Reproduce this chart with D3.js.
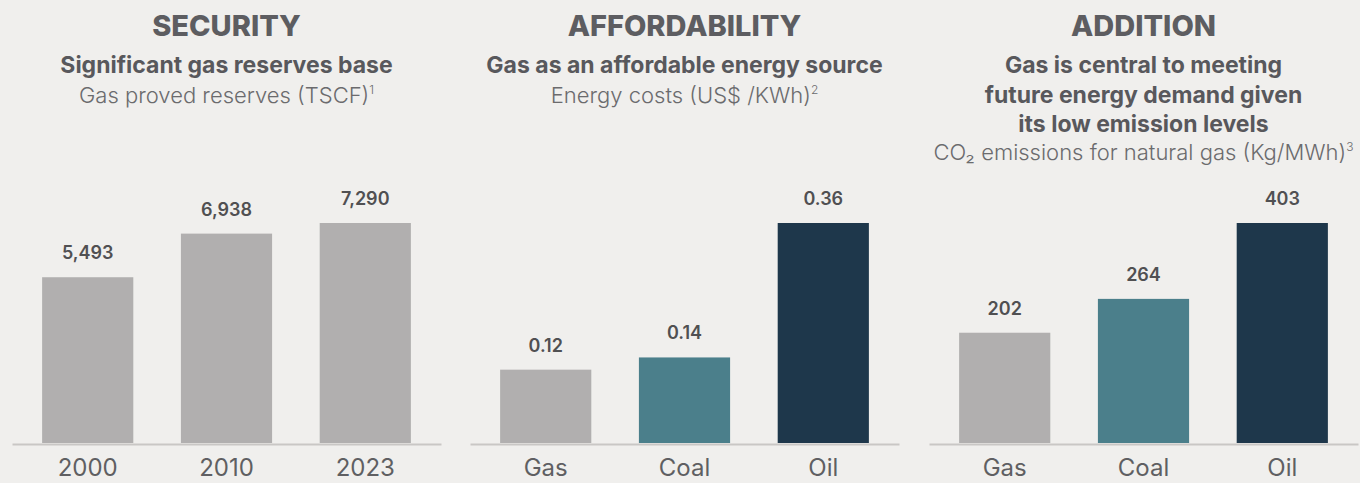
<!DOCTYPE html>
<html>
<head>
<meta charset="utf-8">
<script src="https://cdn.jsdelivr.net/npm/d3@7"></script>
<style>
  html, body { margin: 0; padding: 0; background: #f0efed; }
  svg { display: block; font-family: Inter, "Noto Sans", sans-serif; }
  .domain { stroke: #c9c7c5; stroke-width: 2; }
</style>
</head>
<body>
<svg id="chart" width="1360" height="483"></svg>
<script>
"use strict";

// data
var securityCats = ["2000", "2010", "2023"];
var securityVals = [5493, 6938, 7290];
var securityLabels = ["5,493", "6,938", "7,290"];

var affordCats = ["Gas", "Coal", "Oil"];
var affordVals = [0.12, 0.14, 0.36];
var affordLabels = ["0.12", "0.14", "0.36"];

var additionCats = ["Gas", "Coal", "Oil"];
var additionVals = [202, 264, 403];
var additionLabels = ["202", "264", "403"];

var greyOnly = ["#b1afaf", "#b1afaf", "#b1afaf"];
var fuelColors = ["#b1afaf", "#4b7f8b", "#1e374b"];

var svg = d3.select("#chart");
svg.append("rect").attr("width", 1360).attr("height", 483).attr("fill", "#f0efed");

var panelW = 429, baseY = 443, topY = 223;

// one panel = title block + bar chart
function drawPanel(x0, title, lines, note, noteSup, noteY, cats, vals, labels, colors) {
  var g = svg.append("g").attr("transform", "translate(" + x0 + ",0)");
  var cx = panelW / 2;

  g.append("text")
    .attr("x", cx).attr("y", 36)
    .attr("text-anchor", "middle")
    .attr("font-size", 29).attr("font-weight", 800)
    .attr("fill", "#5d5d61")
    .text(title);

  lines.forEach(function(l, i) {
    g.append("text")
      .attr("x", cx).attr("y", 73 + i * 29.5)
      .attr("text-anchor", "middle")
      .attr("font-size", 23).attr("font-weight", 700)
      .attr("fill", "#58585c")
      .text(l);
  });

  var nt = g.append("text")
    .attr("x", cx).attr("y", noteY)
    .attr("text-anchor", "middle")
    .attr("font-size", 22).attr("font-weight", 300)
    .attr("fill", "#6b6b6d");
  nt.append("tspan").text(note);
  nt.append("tspan").attr("font-size", 12).attr("dy", -9).text(noteSup);

  var x = d3.scaleBand()
    .domain(cats)
    .range([0, panelW])
    .paddingInner(0.343)
    .paddingOuter(0.217);

  var y = d3.scaleLinear()
    .domain([0, d3.max(vals)])
    .range([baseY, topY]);

  g.selectAll(".bar")
    .data(vals)
    .enter()
    .append("rect")
      .attr("class", "bar")
      .attr("x", function(d, i) { return x(cats[i]); })
      .attr("y", function(d) { return y(d); })
      .attr("width", x.bandwidth())
      .attr("height", function(d) { return baseY - y(d); })
      .attr("fill", function(d, i) { return colors[i]; });

  g.selectAll(".val")
    .data(vals)
    .enter()
    .append("text")
      .attr("class", "val")
      .attr("x", function(d, i) { return x(cats[i]) + x.bandwidth() / 2; })
      .attr("y", function(d) { return y(d) - 18; })
      .attr("text-anchor", "middle")
      .attr("font-size", 18).attr("font-weight", 600)
      .attr("fill", "#505052")
      .text(function(d, i) { return labels[i]; });

  var axis = g.append("g")
    .attr("transform", "translate(0," + (baseY + 1) + ")")
    .call(d3.axisBottom(x).tickSize(0).tickPadding(15));
  axis.selectAll("text")
    .attr("font-family", "Inter, sans-serif")
    .attr("font-size", 24)
    .attr("fill", "#5f5f62");
}

drawPanel(12, "SECURITY", ["Significant gas reserves base"],
  "Gas proved reserves (TSCF)", "1", 103,
  securityCats, securityVals, securityLabels, greyOnly);

drawPanel(470, "AFFORDABILITY", ["Gas as an affordable energy source"],
  "Energy costs (US$ /KWh)", "2", 103,
  affordCats, affordVals, affordLabels, fuelColors);

drawPanel(929, "ADDITION", ["Gas is central to meeting", "future energy demand given", "its low emission levels"],
  "CO\u2082 emissions for natural gas (Kg/MWh)", "3", 160,
  additionCats, additionVals, additionLabels, fuelColors);
</script>
</body>
</html>
